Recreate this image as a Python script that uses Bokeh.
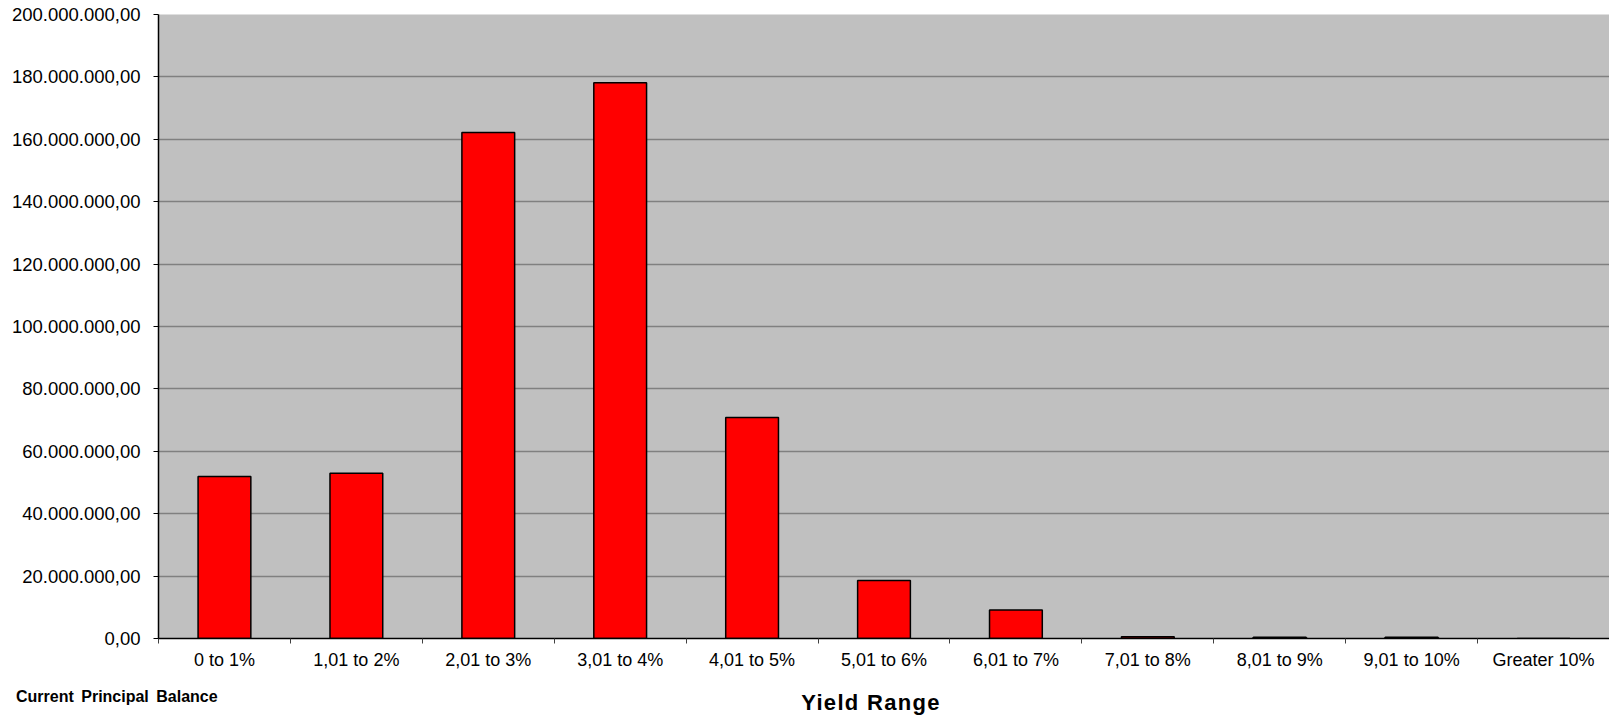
from bokeh.plotting import figure
from bokeh.models import (ColumnDataSource, FixedTicker, CustomJSTickFormatter,
                          Range1d, Div)
from bokeh.layouts import column
from bokeh.embed import file_html
from bokeh.resources import INLINE

categories = ["0 to 1%", "1,01 to 2%", "2,01 to 3%", "3,01 to 4%", "4,01 to 5%",
              "5,01 to 6%", "6,01 to 7%", "7,01 to 8%", "8,01 to 9%",
              "9,01 to 10%", "Greater 10%"]
balances = [51.9e6, 53.0e6, 162.2e6, 178.1e6, 70.8e6, 18.6e6, 9.1e6,
            0.6e6, 0.4e6, 0.4e6, 0.0]
y_ticks = [i * 20e6 for i in range(11)]
y_title = "Current Principal Balance"
x_title = "Yield Range"

n = len(categories)
centers = [i + 0.5 for i in range(n)]
bounds = [float(i) for i in range(n + 1)]

src = ColumnDataSource(dict(x=centers, top=balances, cat=categories))

FONT = "Liberation Sans"

p = figure(width=1609, height=680, output_backend="svg", toolbar_location=None,
           x_range=Range1d(0, n), y_range=Range1d(0, 200e6),
           min_border_left=158, min_border_right=0, min_border_top=14,
           min_border_bottom=42)
p.background_fill_color = "#C0C0C0"
p.border_fill_color = "white"
p.outline_line_color = None

p.vbar(x="x", top="top", width=0.4, bottom=0, source=src,
       fill_color="#FF0000", line_color="black", line_width=1.5)

# x axis
p.xaxis.ticker = FixedTicker(ticks=centers, minor_ticks=bounds)
p.xaxis.major_label_overrides = {c: lab for c, lab in zip(centers, categories)}
p.xaxis.major_tick_out = 0
p.xaxis.major_tick_in = 0
p.xaxis.minor_tick_out = 5
p.xaxis.minor_tick_in = 0
p.xaxis.minor_tick_line_color = "#404040"
p.xaxis.axis_line_color = "black"
p.xaxis.axis_line_width = 1.5
p.xaxis.major_label_text_font = FONT
p.xaxis.major_label_text_font_size = "18px"
p.xaxis.major_label_text_color = "black"
p.xaxis.major_label_standoff = 6
p.xgrid.grid_line_color = None

# y axis
p.yaxis.ticker = FixedTicker(ticks=y_ticks)
p.yaxis.formatter = CustomJSTickFormatter(code="""
    const s = Math.round(tick).toString().replace(/\\B(?=(\\d{3})+(?!\\d))/g, ".");
    return s + ",00";
""")
p.yaxis.major_tick_out = 5
p.yaxis.major_tick_in = 0
p.yaxis.minor_tick_line_color = None
p.yaxis.axis_line_color = "black"
p.yaxis.axis_line_width = 1.5
p.yaxis.major_label_text_font = FONT
p.yaxis.major_label_text_font_size = "18.5px"
p.yaxis.major_label_text_color = "black"
p.yaxis.major_label_standoff = 13
p.ygrid.grid_line_color = "#808080"
p.ygrid.grid_line_width = 1.5

html = (
    '<div style="position:relative;width:1609px;height:39px;">'
    f'<span style="position:absolute;left:11px;top:3px;font-family:\'{FONT}\';'
    'font-size:16px;font-weight:bold;color:black;word-spacing:3px;'
    f'line-height:normal;white-space:nowrap;">{y_title}</span>'
    f'<span style="position:absolute;left:866px;top:5px;transform:translateX(-50%);'
    f'font-family:\'{FONT}\';font-size:22px;font-weight:bold;color:black;'
    f'letter-spacing:1.3px;line-height:normal;white-space:nowrap;">{x_title}</span>'
    '</div>'
)
titles = Div(text=html, width=1609, height=39)

layout = column(p, titles, spacing=0)

open("out.html", "w").write(file_html(layout, INLINE))
